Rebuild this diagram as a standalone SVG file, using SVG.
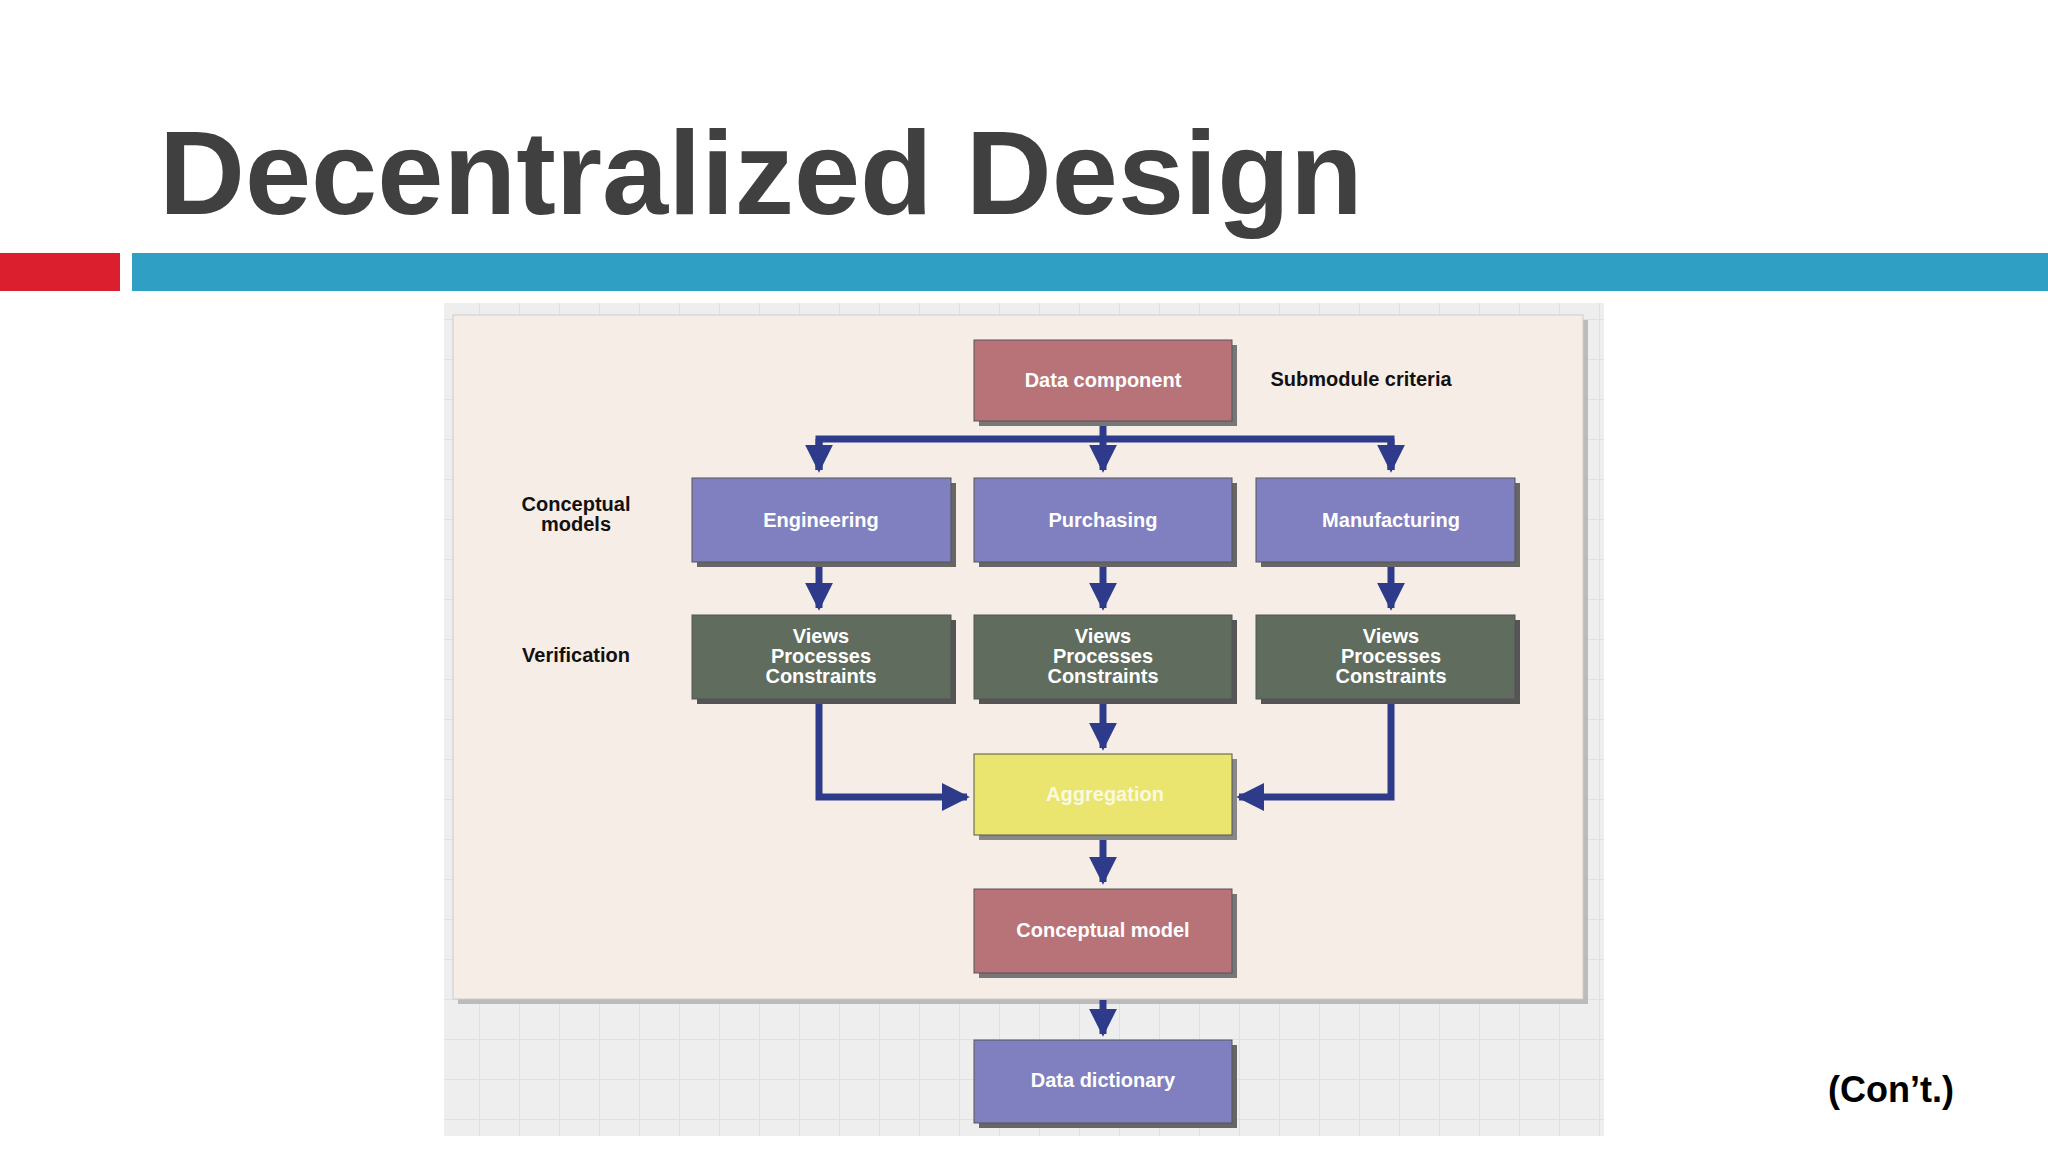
<svg xmlns="http://www.w3.org/2000/svg" width="2048" height="1152" viewBox="0 0 2048 1152">
<defs>
<style>
.bx{stroke:#555;stroke-width:1}
.t{font-family:"Liberation Sans",Arial,sans-serif;font-weight:bold;font-size:20px;fill:#fff;text-anchor:middle}
.lb{font-family:"Liberation Sans",Arial,sans-serif;font-weight:bold;font-size:20px;fill:#111;text-anchor:middle}
.ar{stroke:#2e3b8a;stroke-width:7;fill:none}
.r{fill:#b87378}.p{fill:#8080c0}.g{fill:#5f6c5e}.y{fill:#e9e56f}
</style>
<marker id="ah" viewBox="0 0 10 10" refX="9" refY="5" markerWidth="4" markerHeight="4" orient="auto" markerUnits="strokeWidth"><path d="M0,0 L10,5 L0,10 z" fill="#2e3b8a"/></marker>
<pattern id="grid" width="40" height="40" patternUnits="userSpaceOnUse"><rect width="40" height="40" fill="#eeeeee"/><path d="M40,0 V40 M0,40 H40" stroke="#e0e0e0" stroke-width="2"/></pattern>
</defs>
<rect width="2048" height="1152" fill="#fff"/>
<text x="159" y="214" font-family="Liberation Sans,Arial,sans-serif" font-weight="bold" font-size="119" fill="#404040">Decentralized Design</text>
<rect x="0" y="253" width="120" height="38" fill="#dc1f2e"/>
<rect x="132" y="253" width="1916" height="38" fill="#2fa0c4"/>
<rect x="444" y="303" width="1160" height="833" fill="url(#grid)"/>
<rect x="458" y="320" width="1130" height="684" fill="#bbb"/>
<rect x="453" y="315" width="1130" height="684" fill="#f6ede7" stroke="#ccc"/>
<g id="connectors">
<path class="ar" d="M1103,421 V470" marker-end="url(#ah)"/>
<path class="ar" d="M819,470 V439 H1391 V470" />
<path class="ar" d="M819,439 V470" marker-end="url(#ah)"/>
<path class="ar" d="M1391,439 V470" marker-end="url(#ah)"/>
<path class="ar" d="M819,562 V608" marker-end="url(#ah)"/>
<path class="ar" d="M1103,562 V608" marker-end="url(#ah)"/>
<path class="ar" d="M1391,562 V608" marker-end="url(#ah)"/>
<path class="ar" d="M1103,699 V748" marker-end="url(#ah)"/>
<path class="ar" d="M819,699 V797 H967" marker-end="url(#ah)"/>
<path class="ar" d="M1391,699 V797 H1239" marker-end="url(#ah)"/>
<path class="ar" d="M1103,835 V882" marker-end="url(#ah)"/>
<path class="ar" d="M1103,1000 V1034" marker-end="url(#ah)"/>
</g>
<g id="n-datacomp"><rect x="979" y="345" width="258" height="81" fill="#777"/><rect class="bx r" x="974" y="340" width="258" height="81"/><text class="t" x="1103" y="387">Data component</text></g>
<g id="n-eng"><rect x="697" y="483" width="259" height="84" fill="#666"/><rect class="bx p" x="692" y="478" width="259" height="84"/><text class="t" x="821" y="527">Engineering</text></g>
<g id="n-pur"><rect x="979" y="483" width="258" height="84" fill="#666"/><rect class="bx p" x="974" y="478" width="258" height="84"/><text class="t" x="1103" y="527">Purchasing</text></g>
<g id="n-man"><rect x="1261" y="483" width="259" height="84" fill="#666"/><rect class="bx p" x="1256" y="478" width="259" height="84"/><text class="t" x="1391" y="527">Manufacturing</text></g>
<g id="n-v1"><rect x="697" y="620" width="259" height="84" fill="#555"/><rect class="bx g" x="692" y="615" width="259" height="84"/><text class="t" x="821" y="643">Views</text><text class="t" x="821" y="663">Processes</text><text class="t" x="821" y="683">Constraints</text></g>
<g id="n-v2"><rect x="979" y="620" width="258" height="84" fill="#555"/><rect class="bx g" x="974" y="615" width="258" height="84"/><text class="t" x="1103" y="643">Views</text><text class="t" x="1103" y="663">Processes</text><text class="t" x="1103" y="683">Constraints</text></g>
<g id="n-v3"><rect x="1261" y="620" width="259" height="84" fill="#555"/><rect class="bx g" x="1256" y="615" width="259" height="84"/><text class="t" x="1391" y="643">Views</text><text class="t" x="1391" y="663">Processes</text><text class="t" x="1391" y="683">Constraints</text></g>
<g id="n-agg"><rect x="979" y="759" width="258" height="81" fill="#888"/><rect class="bx y" x="974" y="754" width="258" height="81"/><text class="t" x="1105" y="801" fill-opacity="0.8">Aggregation</text></g>
<g id="n-cm"><rect x="979" y="894" width="258" height="84" fill="#777"/><rect class="bx r" x="974" y="889" width="258" height="84"/><text class="t" x="1103" y="937">Conceptual model</text></g>
<g id="n-dd"><rect x="979" y="1045" width="258" height="83" fill="#666"/><rect class="bx p" x="974" y="1040" width="258" height="83"/><text class="t" x="1103" y="1087">Data dictionary</text></g>
<g id="labels">
<text class="lb" x="1361" y="386">Submodule criteria</text>
<text class="lb" x="576" y="511">Conceptual</text>
<text class="lb" x="576" y="531">models</text>
<text class="lb" x="576" y="662">Verification</text>
<text x="1891" y="1102" font-family="Liberation Sans,Arial,sans-serif" font-weight="bold" font-size="36" fill="#000" text-anchor="middle">(Con’t.)</text>
</g>
</svg>
